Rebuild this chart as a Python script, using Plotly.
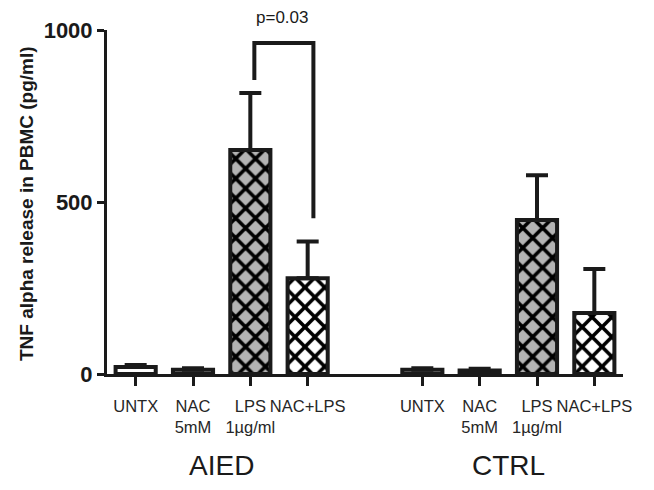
import plotly.graph_objects as go

# data
groups = ["AIED", "CTRL"]
treatments = ["UNTX", "NAC<br>5mM", "LPS<br>1µg/ml", "NAC+LPS"]
aied_mean = [20, 12, 651, 278]
aied_err = [6, 5, 166, 107]
ctrl_mean = [12, 10, 448, 177]
ctrl_err = [5, 5, 130, 128]
positions_aied = [0, 1, 2, 3]
positions_ctrl = [5, 6, 7, 8]

# significance bracket (AIED LPS vs NAC+LPS)
p_label = "p=0.03"
bracket_x = [2.07, 2.07, 3.1, 3.1]
bracket_y = [855, 962, 962, 453]

fills = ["white", "white", "#b4b4b4", "white"]
patterns = ["", "", "x", "x"]

INK = "#1a1a1a"


def add_group(fig, xs, means, errs):
    for x, m, e, fc, pat in zip(xs, means, errs, fills, patterns):
        fig.add_trace(go.Bar(
            x=[x], y=[m], width=0.7, opacity=1,
            marker=dict(color=fc, line=dict(color=INK, width=4),
                        pattern=dict(shape=pat, fgcolor="#000000", fgopacity=1,
                                     bgcolor=fc, fillmode="replace",
                                     size=14, solidity=0.45)),
            error_y=dict(type="data", array=[e], arrayminus=[0], symmetric=False,
                         color=INK, thickness=4, width=11),
            showlegend=False, hoverinfo="y"))


fig = go.Figure()
add_group(fig, positions_aied, aied_mean, aied_err)
add_group(fig, positions_ctrl, ctrl_mean, ctrl_err)

fig.add_trace(go.Scatter(x=bracket_x, y=bracket_y, mode="lines",
                         line=dict(color=INK, width=4), cliponaxis=False,
                         showlegend=False, hoverinfo="skip"))

# page body has an 8px margin, so the figure is a bit smaller than the window
fig.update_layout(
    width=646, height=482,
    margin=dict(l=99, r=31, t=22, b=116),
    plot_bgcolor="white", paper_bgcolor="white",
    font=dict(family="Liberation Sans, Arial, sans-serif", color=INK),
    barmode="overlay",
    xaxis=dict(range=[-0.5, 8.5], showgrid=False, zeroline=False, automargin=False,
               showline=True, linecolor=INK, linewidth=3,
               tickmode="array", tickvals=positions_aied + positions_ctrl,
               ticktext=treatments + treatments, tickangle=0,
               ticks="outside", ticklen=9, tickwidth=3, tickcolor=INK,
               ticklabelstandoff=6,
               tickfont=dict(size=16.5, color="#262626")),
    yaxis=dict(range=[0, 1000], showgrid=False, zeroline=False, automargin=False,
               showline=True, linecolor=INK, linewidth=3,
               tickvals=[0, 500, 1000], ticks="outside", ticklen=7, tickwidth=3,
               tickcolor=INK,
               tickfont=dict(size=22, weight="bold", color=INK)),
)

fig.add_annotation(text="TNF alpha release in PBMC (pg/ml)", textangle=-90,
                   xref="paper", yref="paper", x=-0.157, y=0.497,
                   xanchor="center", yanchor="middle",
                   showarrow=False, font=dict(size=19, weight="bold"))
fig.add_annotation(text=p_label, xref="x", yref="paper", x=2.55, y=1.036,
                   showarrow=False, yanchor="middle", borderpad=0,
                   font=dict(size=17))
for g, xs in zip(groups, [positions_aied, positions_ctrl]):
    fig.add_annotation(text=g, xref="x", yref="paper", x=sum(xs) / len(xs),
                       y=-0.265, showarrow=False, yanchor="middle",
                       font=dict(size=28))

fig.write_html("out.html")
